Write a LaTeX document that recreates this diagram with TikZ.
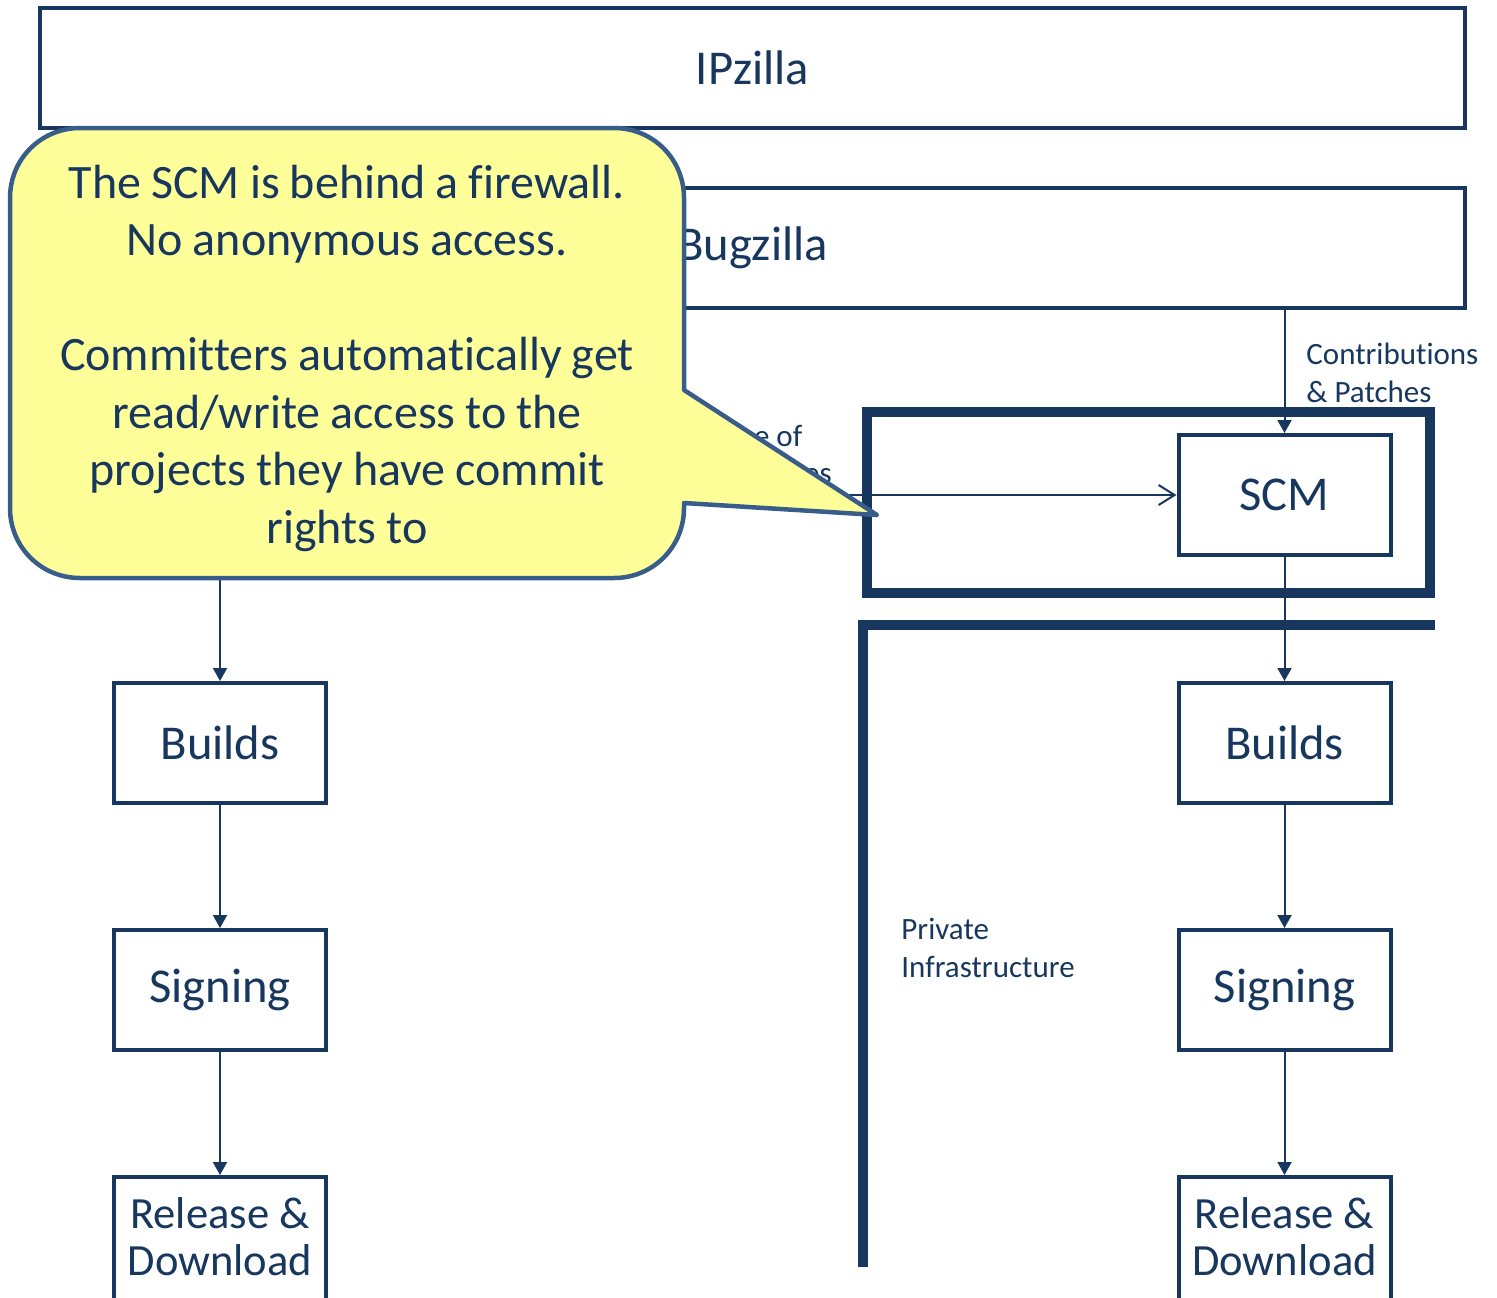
\documentclass[tikz,border=0pt]{standalone}
\usepackage{fontspec}
\setmainfont{Carlito}[Ligatures=NoCommon]
\usepackage{tikz}
\usetikzlibrary{arrows.meta}
\definecolor{navy}{HTML}{17375E}
\definecolor{noteEdge}{HTML}{385D8A}
\definecolor{noteFill}{HTML}{FFFF99}
\newcommand{\noteFont}{\fontsize{24}{28.75}\selectfont\spaceskip=0.21em plus 0.05em\relax}
\tikzset{
  flowBox/.style={draw=navy, line width=2pt, text=navy, fill=white, minimum width=106pt,
    minimum height=60pt, inner sep=0pt, align=center, font=\fontsize{24.3}{24}\selectfont},
  wideBox/.style={flowBox, minimum width=712.5pt},
  lastBox/.style={flowBox, minimum height=62pt, font=\fontsize{22.3}{23.5}\selectfont},
  flowArrow/.style={draw=navy, line width=1pt, -{Triangle[length=6.5pt,width=7pt]}},
  openArrow/.style={draw=navy, line width=1pt, -{Straight Barb[length=8pt,width=10pt]}},
  wallLine/.style={draw=navy, line width=5pt},
  smallText/.style={text=navy, align=left, inner sep=0pt, font=\fontsize{15.5}{18.7}\selectfont},
  noteShape/.style={draw=noteEdge, fill=noteFill, line width=2.25pt, line join=round},
  noteText/.style={text=navy, align=center, inner sep=0pt, font=\noteFont}
}

\begin{document}
\begin{tikzpicture}[x=0.5pt,y=-0.5pt]
  \useasboundingbox (0,0) rectangle (1497,1297);

  \node[wideBox] (ipzilla) at (752.5,68) {IPzilla};
  \node[wideBox] (bugzilla) at (752.5,247.5) {\raisebox{-2.5pt}{Bugzilla}};

  % firewall
  \draw[wallLine] (867,412) rectangle (1430,593);
  \draw[wallLine] (863,1267) -- (863,625) -- (1435,625);

  \node[flowBox] (scm) at (1284.5,495) {SCM};
  \node[flowBox] (buildsR) at (1284.5,743) {Builds};
  \node[flowBox] (signingR) at (1284.5,990) {Signing};
  \node[lastBox] (releaseR) at (1284.5,1239) {\raisebox{3pt}{Release \&}\\\raisebox{3pt}{Download}};

  \node[flowBox] (buildsL) at (220,743) {Builds};
  \node[flowBox] (signingL) at (220,990) {Signing};
  \node[lastBox] (releaseL) at (220,1239) {\raisebox{3pt}{Release \&}\\\raisebox{3pt}{Download}};

  \coordinate (leftSrc) at (220,560);
  \coordinate (hiddenSrc) at (700,495);

  \draw[flowArrow] (bugzilla.south -| scm.north) -- (scm.north);
  \draw[flowArrow] (scm) -- (buildsR);
  \draw[flowArrow] (buildsR) -- (signingR);
  \draw[flowArrow] (signingR) -- (releaseR);
  \draw[flowArrow] (leftSrc) -- (buildsL);
  \draw[flowArrow] (buildsL) -- (signingL);
  \draw[flowArrow] (signingL) -- (releaseL);
  \draw[openArrow] (hiddenSrc) -- (scm.west);

  \node[smallText, anchor=north west] (contrib) at (1306,343) {Contributions\\\& Patches};
  \node[smallText, anchor=north west] (private) at (901,918) {Private\\Infrastructure};
  \node[smallText, align=center] (hiddenLbl) at (743,457) {Source of\\Code Changes};

  % callout
  \draw[noteShape] (684,503) -- (684,508)
    .. controls (684,547) and (653,578) .. (614,578) -- (80,578)
    .. controls (41,578) and (10,547) .. (10,508) -- (10,198)
    .. controls (10,159) and (41,128) .. (80,128) -- (614,128)
    .. controls (653,128) and (684,159) .. (684,198) -- (684,390)
    -- (877,515) -- cycle;
  \node[noteText] (note) at (347,358) {The SCM is behind a firewall.\\No anonymous access.\\[28.75pt]
    Committers automatically get\\read/write access to the\\projects they have commit\\rights to};
\end{tikzpicture}
\end{document}
